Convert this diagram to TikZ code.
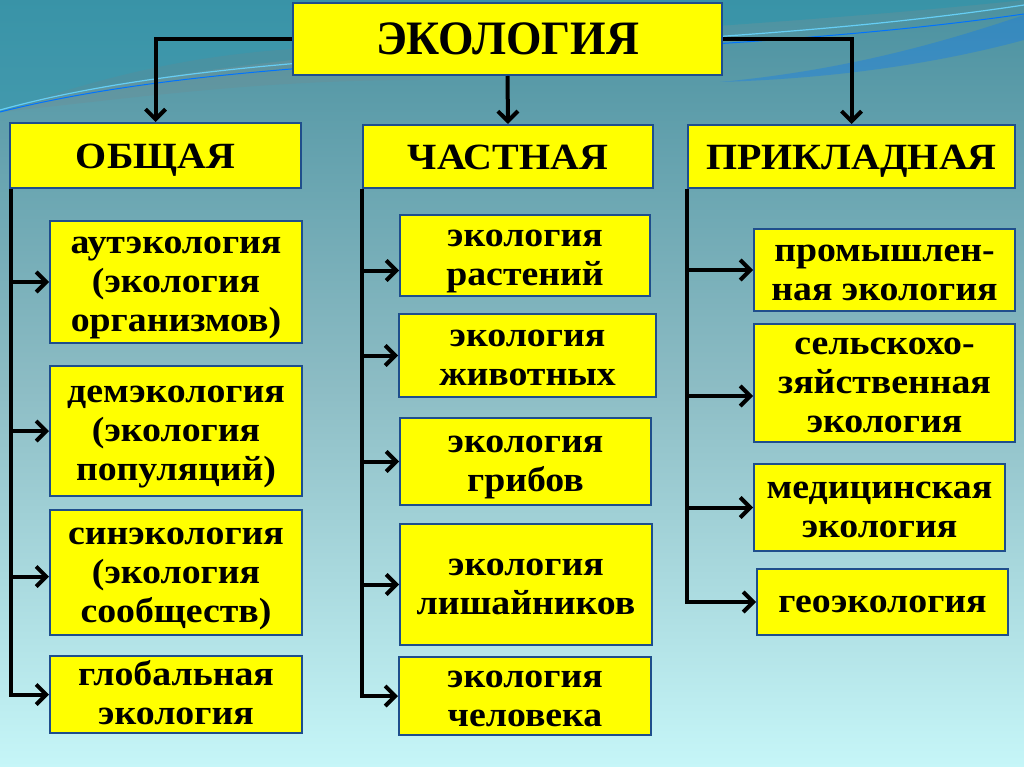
\documentclass[tikz,border=0pt]{standalone}
\usepackage{fontspec}
\setmainfont[FakeStretch=1.08]{Liberation Serif}
\newfontfamily\titlefont[FakeStretch=0.95]{Liberation Serif}
\usetikzlibrary{arrows.meta}
\definecolor{bgtop}{RGB}{75,145,160}
\definecolor{bgmid}{RGB}{140,188,196}
\definecolor{bgbot}{RGB}{198,246,248}
\definecolor{swoosh}{RGB}{40,150,175}
\definecolor{boxedge}{RGB}{31,78,140}
\definecolor{boxfill}{RGB}{255,255,0}
\newcommand\mytop{\rule{0pt}{29pt}}
\newcommand\mybot{\rule[-8pt]{0pt}{8pt}}
\begin{document}
\begin{tikzpicture}[x=1pt,y=-1pt,
  frame/.style={draw=boxedge, line width=2pt, fill=boxfill, inner sep=0pt,
    align=center, text=black},
  box/.style={frame, font=\bfseries\fontsize{35}{39}\selectfont},
  head/.style={frame, font=\bfseries\fontsize{37}{41}\selectfont,
    text height=31pt, text depth=5pt},
  arr/.style={draw=black, line width=4pt, line join=miter,
    -{Straight Barb[length=10pt,width=20pt]}}]
% background
\shade[top color=bgtop, bottom color=bgbot, middle color=bgmid] (0,0) rectangle (1024,767);
\useasboundingbox (0,0) rectangle (1024,767);
\fill[swoosh, opacity=0.5] (0,0) -- (0,112) .. controls (250,40) and (650,40) .. (1024,0) -- cycle;
\fill[gray, opacity=0.18] (0,112) .. controls (150,60) and (250,45) .. (420,45) -- (420,80) .. controls (250,80) and (120,100) .. (0,112) -- cycle;
\draw[cyan!60!white, line width=1.2pt] (0,110) .. controls (260,38) and (660,60) .. (1024,5);
\draw[blue!55!cyan, line width=1pt] (0,112) .. controls (270,44) and (660,66) .. (1024,14);
\fill[blue!55!cyan, opacity=0.3] (720,82) .. controls (850,70) and (950,40) .. (1024,15) -- (1024,40) .. controls (950,60) and (850,78) .. (720,82) -- cycle;

% top
\node[frame, font=\titlefont\bfseries\fontsize{48}{52}\selectfont, text height=37pt, text depth=5pt,
  minimum width=429pt, minimum height=72pt] (eco) at (507.5,39) {ЭКОЛОГИЯ};
\node[head, minimum width=291pt, minimum height=65pt] (obs) at (155.5,155.5) {ОБЩАЯ};
\node[head, minimum width=290pt, minimum height=63pt] (chast) at (508,156.5) {ЧАСТНАЯ};
\node[head, minimum width=327pt, minimum height=63pt] (prik) at (851.5,156.5) {ПРИКЛАДНАЯ};

% left column
\node[box, minimum width=252pt, minimum height=122pt] (a1) at (176,282) {\mytop аутэкология\\(экология\\организмов)\mybot};
\node[box, minimum width=252pt, minimum height=130pt] (a2) at (176,431) {\mytop демэкология\\(экология\\популяций)\mybot};
\node[box, minimum width=252pt, minimum height=125pt] (a3) at (176,572.5) {\mytop синэкология\\(экология\\сообществ)\mybot};
\node[box, minimum width=252pt, minimum height=77pt] (a4) at (176,694.5) {\mytop глобальная\\экология\mybot};

% middle column
\node[box, minimum width=250pt, minimum height=81pt] (b1) at (525,255.5) {\mytop экология\\растений\mybot};
\node[box, minimum width=257pt, minimum height=83pt] (b2) at (527.5,355.5) {\mytop экология\\животных\mybot};
\node[box, minimum width=251pt, minimum height=87pt] (b3) at (525.5,461.5) {\mytop экология\\грибов\mybot};
\node[box, minimum width=252pt, minimum height=121pt] (b4) at (526,584.5) {\mytop экология\\лишайников\mybot};
\node[box, minimum width=252pt, minimum height=78pt] (b5) at (525,696) {\mytop экология\\человека\mybot};

% right column
\node[box, minimum width=261pt, minimum height=82pt] (c1) at (884.5,270) {\mytop промышлен-\\ная экология\mybot};
\node[box, minimum width=261pt, minimum height=118pt] (c2) at (884.5,383) {\mytop сельскохо-\\зяйственная\\экология\mybot};
\node[box, minimum width=251pt, minimum height=87pt] (c3) at (879.5,507.5) {\mytop медицинская\\экология\mybot};
\node[box, minimum width=251pt, minimum height=66pt] (c4) at (882.5,602) {\mytop геоэкология\mybot};

% connectors from top
\draw[arr] (eco.west) -| (obs.north);
\draw[arr] (eco.south) -- (chast.north);
\draw[arr] (eco.east) -| (prik.north);

% trunks
\coordinate (tl) at ([xshift=2pt]obs.south west);
\coordinate (tm) at (chast.south west);
\coordinate (tr) at (prik.south west);

\draw[arr] (tl) |- (a1.west);
\draw[arr] (tl) |- (a2.west);
\draw[arr] (tl) |- ([yshift=-4pt]a3.west);
\draw[arr] (tl) |- (a4.west);

\draw[arr] (tm) |- ([yshift=-15pt]b1.west);
\draw[arr] (tm) |- (b2.west);
\draw[arr] (tm) |- (b3.west);
\draw[arr] (tm) |- (b4.west);
\draw[arr] (tm) |- (b5.west);

\draw[arr] (tr) |- (c1.west);
\draw[arr] (tr) |- ([yshift=-13pt]c2.west);
\draw[arr] (tr) |- (c3.west);
\draw[arr] (tr) |- (c4.west);
\end{tikzpicture}
\end{document}
